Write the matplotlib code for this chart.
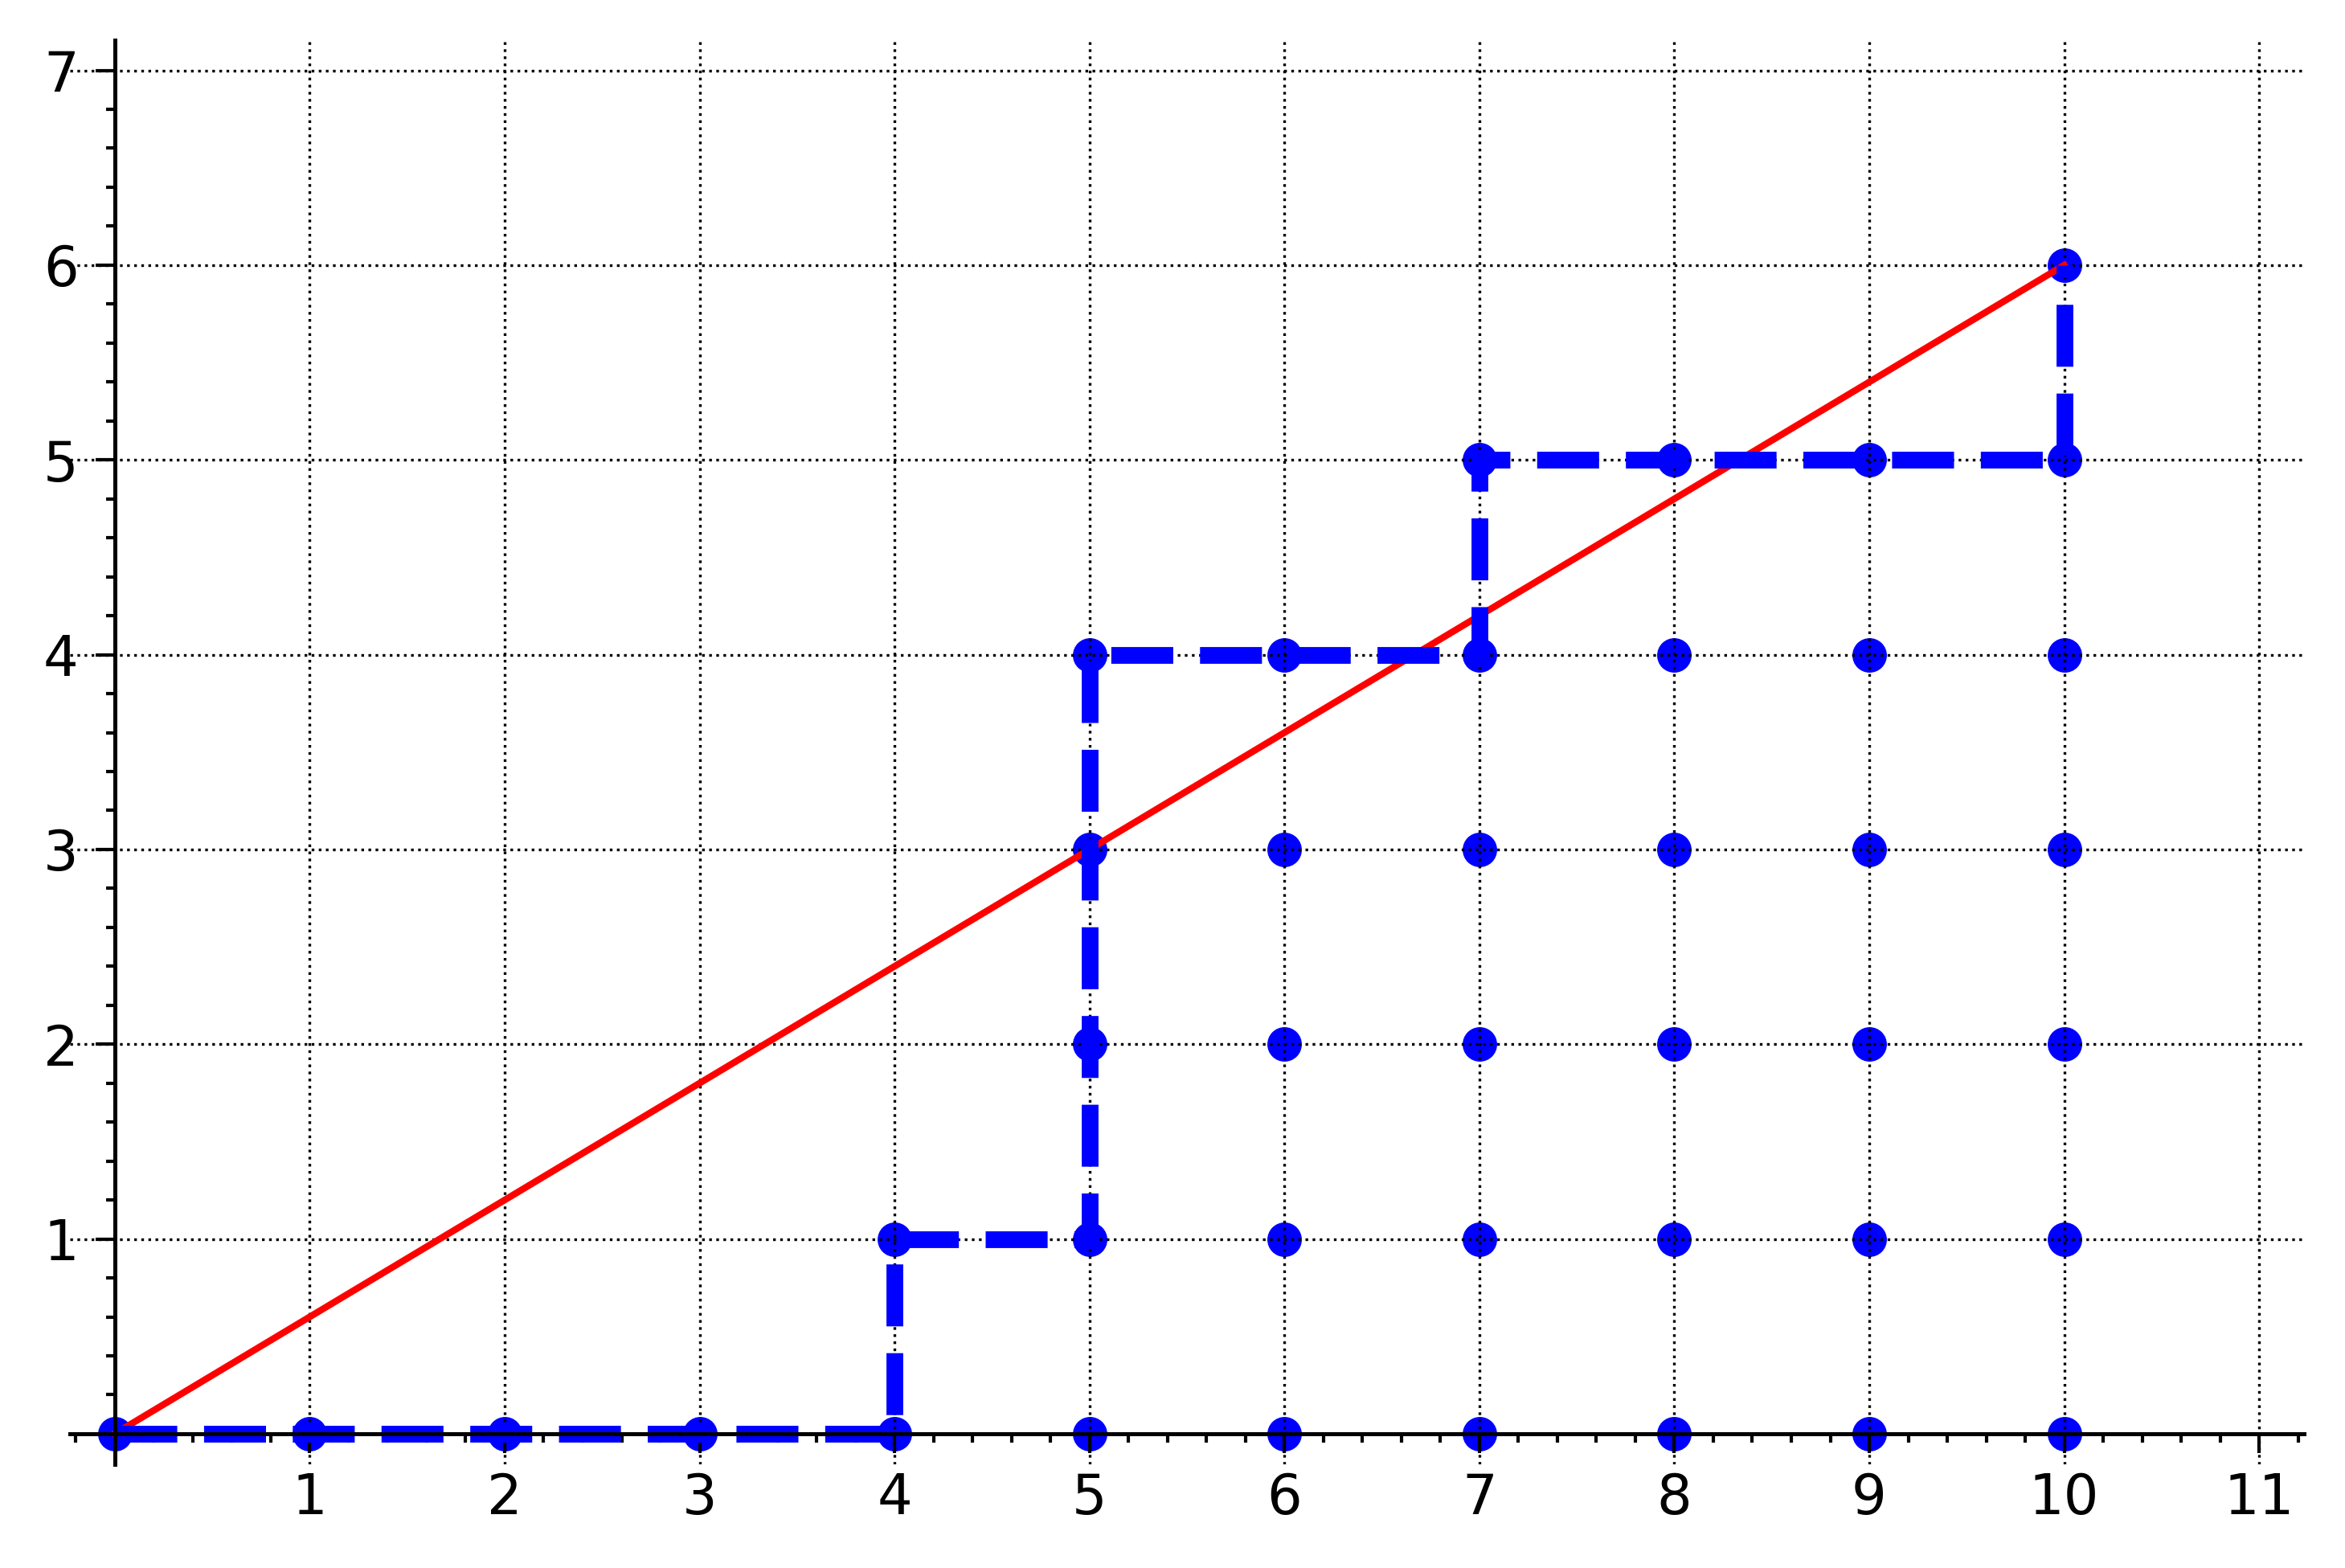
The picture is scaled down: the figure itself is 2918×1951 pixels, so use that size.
import numpy as np
import matplotlib.pyplot as plt

# staircase path (blue dashed, with markers)
path_x = [0, 1, 2, 3, 4, 4, 5, 5, 5, 5, 6, 7, 7, 8, 9, 10, 10]
path_y = [0, 0, 0, 0, 0, 1, 1, 2, 3, 4, 4, 4, 5, 5, 5, 5, 6]

# remaining lattice points
pts_x = [5, 6, 7, 8, 9, 10,
         6, 7, 8, 9, 10,
         6, 7, 8, 9, 10,
         6, 7, 8, 9, 10,
         8, 9, 10]
pts_y = [0, 0, 0, 0, 0, 0,
         1, 1, 1, 1, 1,
         2, 2, 2, 2, 2,
         3, 3, 3, 3, 3,
         4, 4, 4]

# red diagonal
line_x = [0, 10]
line_y = [0, 6]

xticks = [1, 2, 3, 4, 5, 6, 7, 8, 9, 10, 11]
yticks = [1, 2, 3, 4, 5, 6, 7]

fig = plt.figure(figsize=(2918/300, 1951/300), dpi=300)
ax = fig.add_axes([87/2918, 1 - 1822/1951, (2867-87)/2918, (1822-50)/1951])

# markers sit under the grid, lines on top of it
ax.plot(pts_x, pts_y, 'o', color='#0000ff', markersize=10.3, markeredgewidth=0, zorder=1)
ax.plot(path_x, path_y, 'o', color='#0000ff', markersize=10.3, markeredgewidth=0, zorder=1)
ax.set_axisbelow(False)
ax.plot(line_x, line_y, '-', color='#ff0000', lw=2, zorder=3)
ax.plot(path_x, path_y, '--', color='#0000ff', lw=5, zorder=4)

ax.set_xlim(-0.23, 11.23)
ax.set_ylim(-0.157, 7.155)

for s in ['top', 'right']:
    ax.spines[s].set_visible(False)
ax.spines['left'].set_position(('data', 0))
ax.spines['bottom'].set_position(('data', 0))
for s in ['left', 'bottom']:
    ax.spines[s].set_linewidth(1.2)
    ax.spines[s].set_zorder(5)

ax.set_xticks(xticks)
ax.set_yticks(yticks)
ax.set_xticks(np.arange(-0.2, 11.3, 0.2), minor=True)
ax.set_yticks(np.arange(-0.0, 7.2, 0.2), minor=True)
ax.tick_params(which='major', direction='out', length=5.8, width=1, labelsize=16.5)
ax.tick_params(axis='x', which='major', pad=5.6)
ax.tick_params(axis='y', which='major', pad=5.0)
ax.tick_params(which='minor', direction='out', length=2.7, width=1)

ax.grid(True, which='major', linestyle=':', color='black', lw=0.8)

fig.savefig('out.png', dpi=300)
